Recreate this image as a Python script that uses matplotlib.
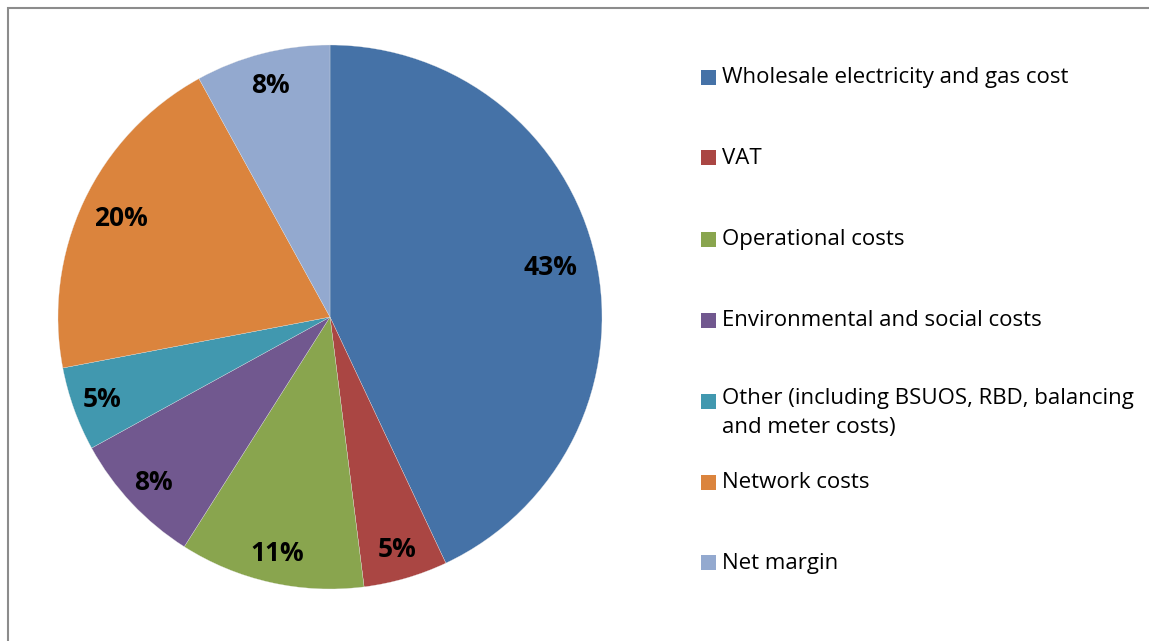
import numpy as np
import matplotlib.pyplot as plt
from matplotlib.patches import Rectangle

labels = ['Wholesale electricity and gas cost', 'VAT', 'Operational costs',
          'Environmental and social costs',
          'Other (including BSUOS, RBD, balancing\nand meter costs)',
          'Network costs', 'Net margin']
shares = [43, 5, 11, 8, 5, 20, 8]
colors = ['#4572A7', '#AA4643', '#89A54E', '#71588F', '#4198AF', '#DB843D', '#93A9CF']

W, H = 1149, 641
fig = plt.figure(figsize=(W / 100, H / 100), dpi=100)

# outer chart border (only left/top visible in the original crop)
fig.patches.append(Rectangle((8 / W, -0.1), 1.2, (H - 8) / H + 0.1,
                             transform=fig.transFigure, fill=False,
                             edgecolor='#8c8c8c', linewidth=1.5))

cx, cy, r = 330, 317, 272
ax = fig.add_axes([(cx - r) / W, (H - cy - r) / H, 2 * r / W, 2 * r / H])
wedges, texts, autotexts = ax.pie(shares, colors=colors, startangle=90, counterclock=False,
                                  autopct='%d%%', pctdistance=0.87, radius=1,
                                  wedgeprops=dict(edgecolor='#e8e8e8', linewidth=0.2),
                                  textprops=dict(fontsize=19, fontweight='bold',
                                                 family='Open Sans', color='black'))
# nudge the big slice label a bit inward like the original
for t, d in zip(autotexts, [0.83, 0.89, 0.89, 0.89, 0.89, 0.85, 0.88]):
    x, y = t.get_position()
    k = d / np.hypot(x, y)
    t.set_position((x * k, y * k))

ax.set_xlim(-1, 1)
ax.set_ylim(-1, 1)
ax.set_aspect('equal')
ax.axis('off')

# legend drawn by hand to keep Excel-like spacing
ys = [78, 158, 240, 321, 402, 483, 563]
for lab, col, y in zip(labels, colors, ys):
    fig.patches.append(Rectangle((701 / W, (H - y - 7) / H), 15 / W, 15 / H,
                                 transform=fig.transFigure, facecolor=col, edgecolor='none'))
    if '\n' in lab:
        fig.text(722 / W, (H - y + 14) / H, lab, fontsize=16, family='Open Sans',
                 va='top', ha='left', linespacing=1.5)
    else:
        fig.text(722 / W, (H - y) / H, lab, fontsize=16, family='Open Sans',
                 va='center', ha='left')

fig.savefig('out.png', dpi=100)
